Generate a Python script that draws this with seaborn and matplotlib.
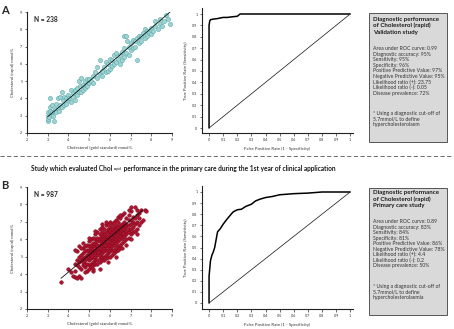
import matplotlib
matplotlib.use("Agg")
import matplotlib.pyplot as plt
import seaborn as sns
import pandas as pd

sns.set_style("ticks")
plt.rcParams['font.family'] = ['Lato', 'DejaVu Sans']

# Panel A - validation study (hand-read points, gold standard vs rapid)
pts_a = [
    (3.0, 2.7), (3.0, 2.8), (3.0, 3.0), (3.0, 3.2), (3.05, 2.9), (3.1, 3.3), (3.1, 3.5), (3.1, 4.0),
    (3.15, 3.1), (3.2, 3.2), (3.2, 3.6), (3.25, 3.0), (3.3, 3.3), (3.3, 2.7), (3.35, 3.4), (3.4, 3.2),
    (3.4, 3.7), (3.5, 3.4), (3.5, 4.0), (3.55, 3.3), (3.6, 4.1), (3.6, 3.6), (3.7, 4.4), (3.7, 3.5),
    (3.75, 3.9), (3.8, 3.6), (3.8, 4.1), (3.9, 4.0), (3.9, 3.7), (4.0, 4.2), (4.0, 3.9), (4.05, 4.0),
    (4.1, 4.5), (4.1, 3.8), (4.2, 4.1), (4.2, 4.3), (4.3, 3.9), (4.3, 4.5), (4.4, 4.6), (4.4, 4.2),
    (4.5, 4.4), (4.5, 5.0), (4.55, 4.7), (4.6, 5.2), (4.6, 4.4), (4.7, 4.8), (4.7, 4.5), (4.8, 5.0),
    (4.8, 4.6), (4.9, 5.1), (4.9, 4.7), (5.0, 4.9), (5.0, 5.1), (5.1, 5.0), (5.2, 5.3), (5.2, 4.9),
    (5.3, 5.5), (5.4, 5.2), (5.4, 5.8), (5.5, 5.4), (5.5, 6.2), (5.6, 5.6), (5.6, 5.3), (5.7, 5.8),
    (5.8, 6.1), (5.8, 5.5), (5.9, 5.6), (5.9, 6.0), (6.0, 6.3), (6.0, 5.7), (6.1, 6.2), (6.1, 5.9),
    (6.2, 6.5), (6.2, 6.0), (6.3, 6.1), (6.3, 6.6), (6.4, 6.3), (6.5, 6.5), (6.5, 6.0), (6.6, 6.7),
    (6.6, 6.2), (6.7, 7.6), (6.7, 6.9), (6.7, 6.4), (6.8, 7.6), (6.8, 6.6), (6.85, 7.3), (6.9, 7.0),
    (6.9, 6.5), (7.0, 7.2), (7.0, 6.8), (7.1, 7.4), (7.1, 6.9), (7.2, 7.3), (7.2, 7.0), (7.3, 6.2),
    (7.3, 7.5), (7.4, 7.2), (7.4, 7.6), (7.5, 7.6), (7.5, 7.3), (7.6, 7.8), (7.7, 7.5), (7.7, 8.0),
    (7.8, 7.9), (7.8, 7.6), (7.9, 7.8), (8.0, 8.1), (8.0, 7.7), (8.1, 7.9), (8.2, 8.2), (8.2, 8.5),
    (8.3, 8.0), (8.4, 8.3), (8.4, 8.6), (8.5, 8.2), (8.6, 8.5), (8.7, 8.8), (8.8, 8.6), (8.9, 8.3),
]
fit_a_x = [3.0, 8.9]
fit_a_y = [2.94, 8.99]

# Panel B - primary care study
pts_b = [
    (3.65, 3.55), (4.0, 4.3), (4.1, 4.1), (4.2, 3.9), (4.3, 3.85), (4.3, 4.2), (4.3, 4.6),
    (4.4, 4.5), (4.4, 3.8), (4.4, 4.8), (4.4, 5.3), (4.5, 4.4), (4.5, 4.7), (4.5, 5.0), (4.5, 3.9),
    (4.5, 5.6), (4.6, 4.3), (4.6, 4.8), (4.6, 5.1), (4.6, 3.8), (4.7, 4.5), (4.7, 4.9), (4.7, 5.2),
    (4.7, 4.7), (4.7, 5.5), (4.8, 4.4), (4.8, 4.8), (4.8, 5.0), (4.8, 5.3), (4.8, 4.6), (4.8, 5.6),
    (4.9, 4.6), (4.9, 4.9), (4.9, 5.1), (4.9, 5.4), (4.9, 4.2), (4.9, 5.7),
    (5.0, 4.5), (5.0, 4.8), (5.0, 5.0), (5.0, 5.2), (5.0, 5.4), (5.0, 5.6), (5.0, 4.3), (5.0, 5.9),
    (5.1, 4.6), (5.1, 4.9), (5.1, 5.1), (5.1, 5.3), (5.1, 5.5), (5.1, 5.7), (5.1, 4.4), (5.1, 6.0),
    (5.2, 4.7), (5.2, 5.0), (5.2, 5.2), (5.2, 5.4), (5.2, 5.6), (5.2, 5.8), (5.2, 4.5), (5.2, 6.1),
    (5.2, 4.2), (5.3, 4.8), (5.3, 5.0), (5.3, 5.2), (5.3, 5.4), (5.3, 5.6), (5.3, 5.8), (5.3, 6.0),
    (5.3, 4.6), (5.3, 6.3), (5.4, 4.8), (5.4, 5.1), (5.4, 5.3), (5.4, 5.5), (5.4, 5.7), (5.4, 5.9),
    (5.4, 6.1), (5.4, 4.6), (5.4, 6.4), (5.5, 4.9), (5.5, 5.1), (5.5, 5.3), (5.5, 5.5), (5.5, 5.7),
    (5.5, 5.9), (5.5, 6.1), (5.5, 6.3), (5.5, 4.7), (5.5, 6.6), (5.6, 5.0), (5.6, 5.2), (5.6, 5.4),
    (5.6, 5.6), (5.6, 5.8), (5.6, 6.0), (5.6, 6.2), (5.6, 6.4), (5.6, 4.8), (5.6, 6.7), (5.7, 5.0),
    (5.7, 5.3), (5.7, 5.5), (5.7, 5.7), (5.7, 5.9), (5.7, 6.1), (5.7, 6.3), (5.7, 4.8), (5.7, 6.6),
    (5.8, 5.1), (5.8, 5.4), (5.8, 5.6), (5.8, 5.8), (5.8, 6.0), (5.8, 6.2), (5.8, 6.4), (5.8, 4.9),
    (5.8, 6.8), (5.9, 5.2), (5.9, 5.4), (5.9, 5.6), (5.9, 5.8), (5.9, 6.0), (5.9, 6.2), (5.9, 6.4),
    (5.9, 6.6), (5.9, 5.0), (5.9, 6.9), (6.0, 5.3), (6.0, 5.5), (6.0, 5.7), (6.0, 5.9), (6.0, 6.1),
    (6.0, 6.3), (6.0, 6.5), (6.0, 6.7), (6.0, 5.0), (6.0, 7.0), (6.1, 5.4), (6.1, 5.6), (6.1, 5.8),
    (6.1, 6.0), (6.1, 6.2), (6.1, 6.4), (6.1, 6.6), (6.1, 5.1), (6.1, 6.9), (6.2, 5.4), (6.2, 5.7),
    (6.2, 5.9), (6.2, 6.1), (6.2, 6.3), (6.2, 6.5), (6.2, 6.7), (6.2, 5.2), (6.2, 7.0), (6.3, 5.5),
    (6.3, 5.8), (6.3, 6.0), (6.3, 6.2), (6.3, 6.4), (6.3, 6.6), (6.3, 6.8), (6.3, 5.3), (6.3, 7.1),
    (6.4, 5.6), (6.4, 5.9), (6.4, 6.1), (6.4, 6.3), (6.4, 6.5), (6.4, 6.7), (6.4, 7.0), (6.4, 5.4),
    (6.4, 7.3), (6.5, 5.7), (6.5, 6.0), (6.5, 6.2), (6.5, 6.4), (6.5, 6.6), (6.5, 6.8), (6.5, 5.5),
    (6.5, 7.2), (6.6, 5.8), (6.6, 6.1), (6.6, 6.3), (6.6, 6.5), (6.6, 6.7), (6.6, 6.9), (6.6, 7.4),
    (6.7, 5.9), (6.7, 6.2), (6.7, 6.4), (6.7, 6.6), (6.7, 6.8), (6.7, 7.0), (6.7, 7.5), (6.8, 6.0),
    (6.8, 6.3), (6.8, 6.5), (6.8, 6.7), (6.8, 6.9), (6.8, 7.2), (6.8, 5.7), (6.9, 6.1), (6.9, 6.4),
    (6.9, 6.6), (6.9, 6.8), (6.9, 7.1), (6.9, 7.4), (7.0, 6.3), (7.0, 6.6), (7.0, 6.9), (7.0, 7.1),
    (7.0, 7.6), (7.0, 6.0), (7.0, 7.85), (7.1, 6.4), (7.1, 6.7), (7.1, 7.0), (7.1, 7.3), (7.2, 6.5),
    (7.2, 6.9), (7.2, 7.2), (7.2, 7.85), (7.3, 6.6), (7.3, 7.0), (7.3, 7.4), (7.3, 7.7), (7.4, 6.8),
    (7.4, 7.2), (7.5, 7.0), (7.5, 7.7), (7.6, 7.1), (7.7, 7.7), (7.75, 7.65),
    (4.3, 5.4), (4.6, 5.5), (4.8, 4.1), (5.2, 4.3), (5.5, 4.3), (5.9, 4.7), (6.3, 5.0), (6.6, 5.5),
    (7.3, 6.3), (7.4, 7.5), (6.9, 7.7), (6.5, 7.4), (5.8, 7.0), (5.6, 6.9), (5.3, 6.5), (5.0, 6.1),
    (4.7, 5.8), (5.45, 5.25), (5.75, 5.65), (6.05, 6.15), (6.35, 6.45), (5.15, 5.05), (6.65, 6.35),
]
fit_b_x = [3.64, 7.59]
fit_b_y = [3.76, 7.68]

# ROC curves
fpr_a = [0, 0, 0.005, 0.01, 0.03, 0.06, 0.08, 0.1, 0.13, 0.16, 0.2, 0.22, 0.4, 0.7, 1.0]
tpr_a = [0, 0.90, 0.94, 0.95, 0.955, 0.96, 0.965, 0.97, 0.97, 0.975, 0.98, 1.0, 1.0, 1.0, 1.0]
fpr_b = [0, 0, 0.01, 0.02, 0.03, 0.04, 0.05, 0.06, 0.08, 0.1, 0.13, 0.15, 0.17, 0.2, 0.23,
         0.26, 0.3, 0.33, 0.36, 0.4, 0.45, 0.5, 0.6, 0.7, 0.8, 1.0]
tpr_b = [0, 0.24, 0.38, 0.43, 0.46, 0.5, 0.57, 0.64, 0.67, 0.71, 0.76, 0.79, 0.82, 0.84, 0.845,
         0.87, 0.89, 0.92, 0.935, 0.95, 0.96, 0.975, 0.985, 0.99, 1.0, 1.0]
diag = [0, 1]

info_a_head = ["Diagnostic performance", "of Cholesterol (rapid)", "Validation study"]
info_a_body = ["Area under ROC curve: 0.99", "Diagnostic accuracy: 95%", "Sensitivity: 95%",
               "Specificity: 96%", "Positive Predictive Value: 97%", "Negative Predictive Value: 95%",
               "Likelihood ratio (+): 23.75", "Likelihood ratio (-): 0.05", "Disease prevalence: 72%"]
info_a_note = ["* Using a diagnostic cut-off of", "5.7mmol/L to define", "hypercholesterolaem"]
info_b_head = ["Diagnostic performance", "of Cholesterol (rapid)", "Primary care study"]
info_b_body = ["Area under ROC curve: 0.89", "Diagnostic accuracy: 83%", "Sensitivity: 84%",
               "Specificity: 81%", "Positive Predictive Value: 86%", "Negative Predictive Value: 78%",
               "Likelihood ratio (+): 4.4", "Likelihood ratio (-): 0.2", "Disease prevalence: 50%"]
info_b_note = ["* Using a diagnostic cut-off of", "5.7mmol/L to define", "hypercholesterolaemia"]

W, H = 454, 329
fig = plt.figure(figsize=(W / 100, H / 100), dpi=100)


def rect(l, r, t, b):
    return [l / W, 1 - b / H, (r - l) / W, (b - t) / H]


def style(ax):
    sns.despine(ax=ax)
    for s in ['left', 'bottom']:
        ax.spines[s].set_linewidth(0.8)
        ax.spines[s].set_color('#222222')
    ax.tick_params(labelsize=2.7, length=1.8, width=0.5, pad=1.5, colors='#333333')


def scatter_panel(top, bottom, pts, fit_x, fit_y, face, edge, size, n_text):
    ax = fig.add_axes(rect(27, 172, top, bottom))
    df = pd.DataFrame(pts, columns=['gold', 'rapid'])
    sns.scatterplot(data=df, x='gold', y='rapid', ax=ax, color=face, edgecolor=edge,
                    s=size, linewidth=0.4, zorder=2)
    sns.lineplot(x=fit_x, y=fit_y, ax=ax, color='#111111', linewidth=0.6, zorder=3)
    ax.set_xlim(2, 9)
    ax.set_ylim(2, 9)
    ax.set_xticks(range(2, 10))
    ax.set_yticks(range(2, 10))
    style(ax)
    ax.set_xlabel('Cholesterol (gold standard) mmol/L', fontsize=3.1, labelpad=3, color='#333333')
    ax.set_ylabel('Cholesterol (rapid) mmol/L', fontsize=3.1, labelpad=4, color='#333333')
    ax.text(0.05, 0.965, n_text, transform=ax.transAxes, fontsize=4.8, fontweight='bold',
            va='top', ha='left')
    return ax


def roc_panel(top, bottom, y0_px, y1_px, fpr, tpr):
    ax = fig.add_axes(rect(202, 353, top, bottom))
    unit = y0_px - y1_px
    sns.lineplot(x=fpr, y=tpr, ax=ax, color='black', linewidth=1.1, sort=False, estimator=None)
    sns.lineplot(x=diag, y=diag, ax=ax, color='#222222', linewidth=0.55)
    ax.set_xlim(-0.05, 1.02)
    ax.set_ylim(-(bottom - y0_px) / unit, 1 + (y1_px - top) / unit)
    ticks = [i / 10 for i in range(11)]
    lab = ['0'] + ['%.1f' % t for t in ticks[1:-1]] + ['1']
    ax.set_xticks(ticks, lab)
    ax.set_yticks(ticks, lab)
    style(ax)
    ax.set_xlabel('False Positive Rate (1 - Specificity)', fontsize=3.2, labelpad=4, color='#333333')
    ax.set_ylabel('True Positive Rate (Sensitivity)', fontsize=3.2, labelpad=3, color='#333333')
    return ax


def info_box(top, bottom, head_y, body_y, note_y, head, body, note):
    box = plt.Rectangle((369 / W, 1 - bottom / H), 78 / W, (bottom - top) / H,
                        transform=fig.transFigure, facecolor='#d9d9d9',
                        edgecolor='#555555', linewidth=0.7)
    fig.add_artist(box)
    for i, s in enumerate(head):
        fig.text(373 / W, 1 - (head_y + i * 6.6) / H, s, fontsize=4.4, fontweight='bold',
                 va='center', color='#1a1a1a')
    for i, s in enumerate(body):
        fig.text(373 / W, 1 - (body_y + i * 5.5) / H, s, fontsize=3.7, va='center', color='#333333')
    for i, s in enumerate(note):
        fig.text(373 / W, 1 - (note_y + i * 5.4) / H, s, fontsize=3.7, va='center', color='#333333')


scatter_panel(12, 133, pts_a, fit_a_x, fit_a_y, '#9fd4d2', '#5aa9ab', 9, 'N = 238')
scatter_panel(187, 309, pts_b, fit_b_x, fit_b_y, '#b3122f', '#7e0a1e', 6.5, 'N = 987')
roc_panel(8, 133, 128, 14, fpr_a, tpr_a)
roc_panel(186, 309, 303, 192, fpr_b, tpr_b)
info_box(13, 142, 19, 49, 113.5, info_a_head, info_a_body, info_a_note)
info_box(188, 315, 192.5, 221.7, 286.7, info_b_head, info_b_body, info_b_note)

fig.text(0.002, 1 - 10 / H, 'A', fontsize=8, fontweight='bold', va='center')
fig.text(0.002, 1 - 185 / H, 'B', fontsize=8, fontweight='bold', va='center')

# dashed separator
fig.add_artist(plt.Line2D([0, 1], [1 - 156 / H] * 2, transform=fig.transFigure,
                          color='#555555', linewidth=0.6, linestyle=(0, (5, 3))))

# title with subscript "rapid"
t1 = fig.text(31 / W, 1 - 171 / H, 'Study which evaluated Chol ', fontsize=4.7,
              fontweight='bold', va='baseline', color='#1a1a1a')
t2 = plt.annotate('rapid', xy=(1, 0.15), xycoords=t1, fontsize=2.6, va='bottom',
                  color='#1a1a1a', annotation_clip=False)
t3 = plt.annotate(' performance in the primary care during the 1st year of clinical application',
                  xy=(1, 0), xycoords=t2, xytext=(0, -0.6), textcoords='offset points',
                  fontsize=4.7, fontweight='bold', va='bottom', color='#1a1a1a',
                  annotation_clip=False)

fig.savefig('out.png', dpi=100)
